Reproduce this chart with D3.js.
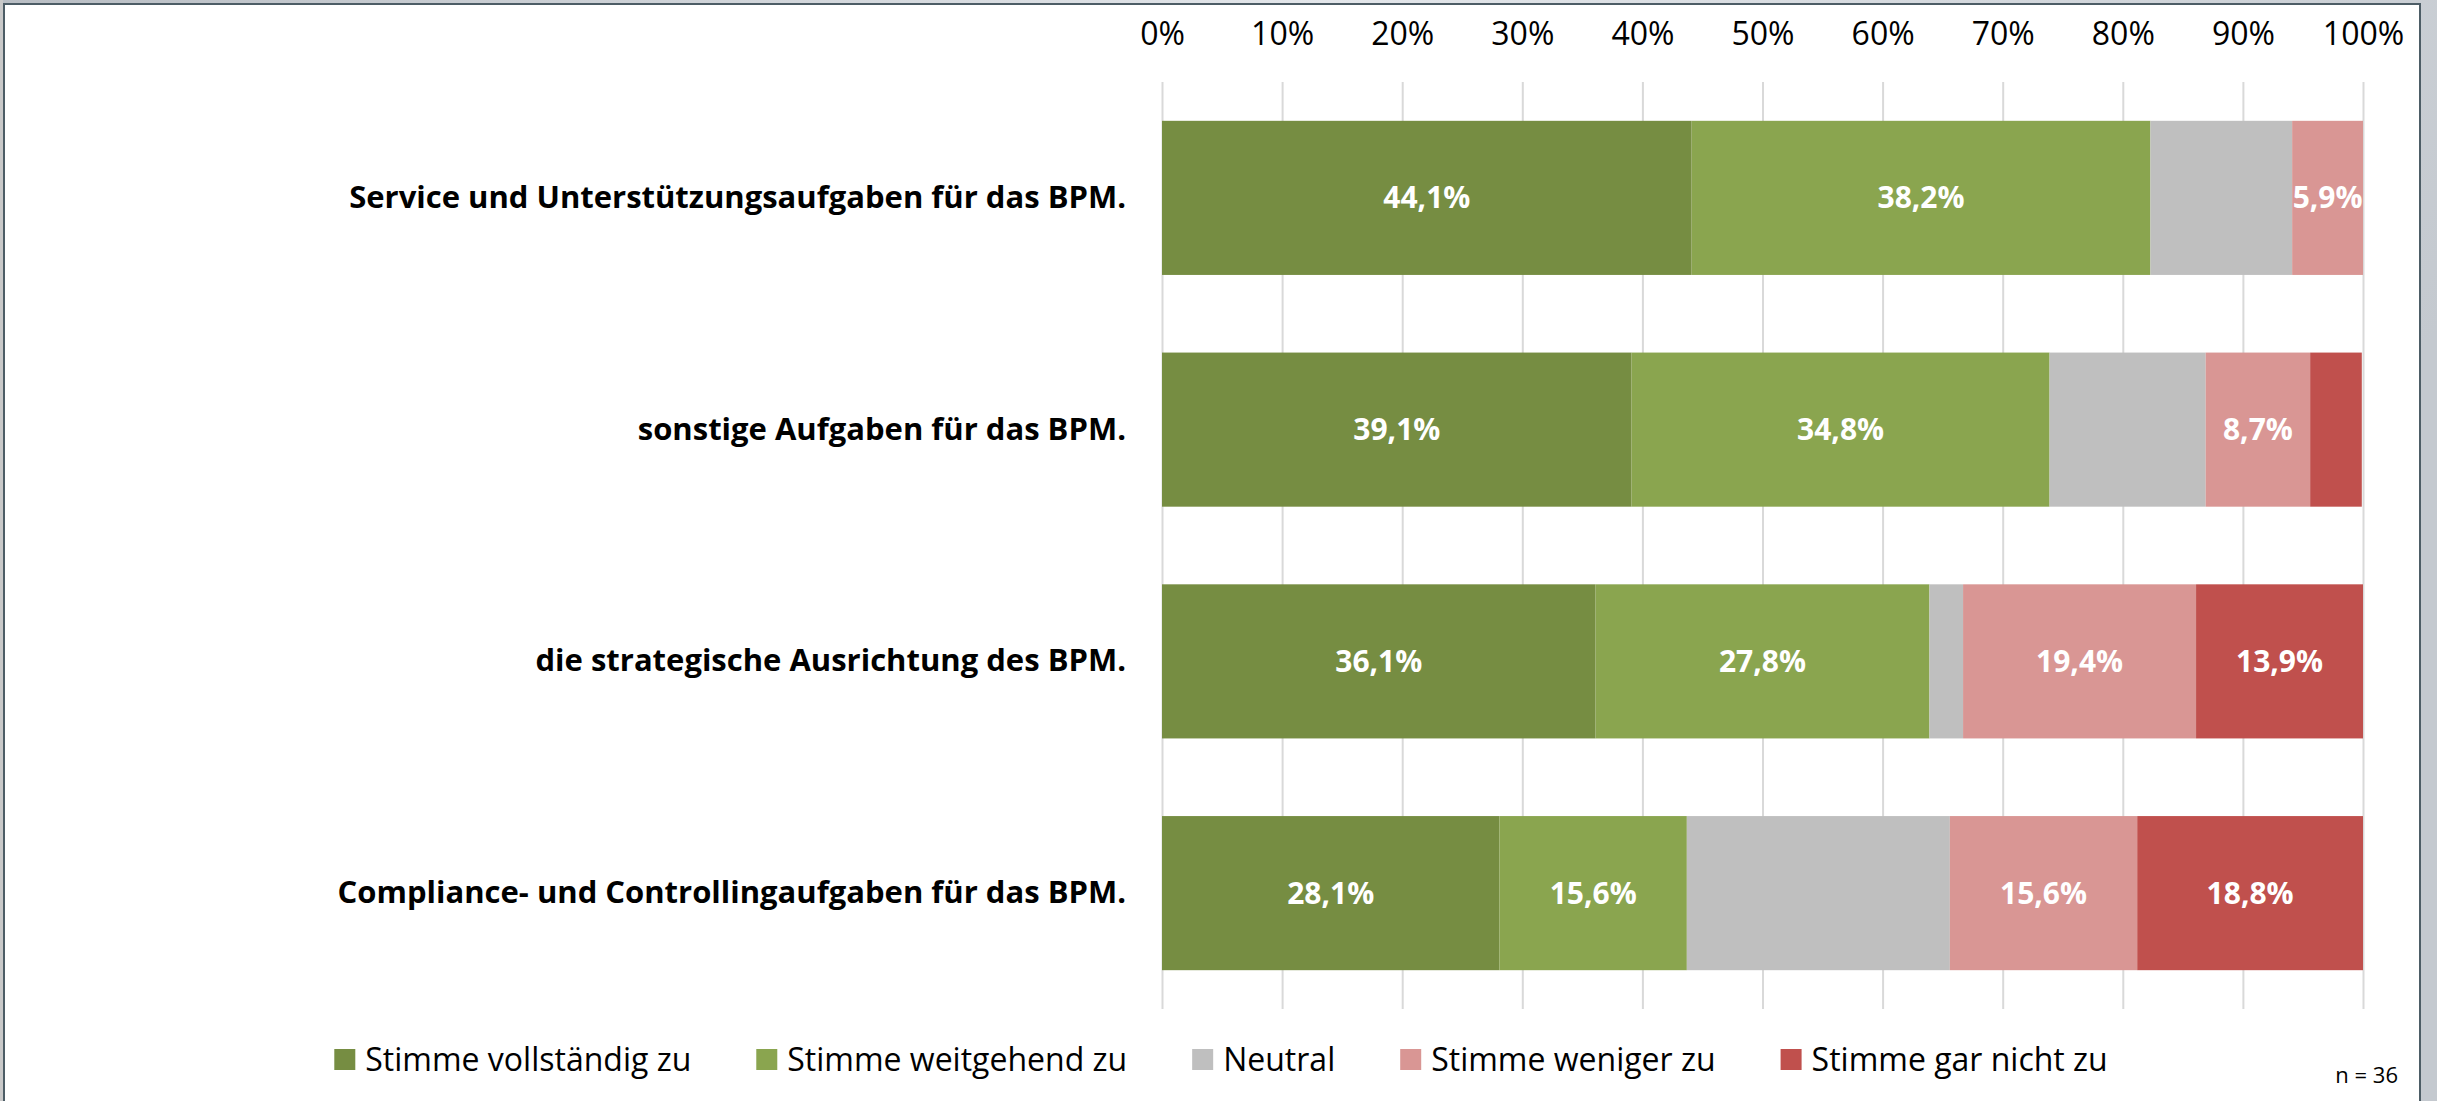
<!DOCTYPE html>
<html>
<head>
<meta charset="utf-8">
<script src="https://cdn.jsdelivr.net/npm/d3@7"></script>
<style>
	body { margin: 0; background: #c8ccd0; overflow: hidden; }
	svg { display: block; }
</style>
</head>
<body>
<div id="chart"></div>
<script>

// Chart data
const categories = [
	"Service und Unterstützungsaufgaben für das BPM.",
	"sonstige Aufgaben für das BPM.",
	"die strategische Ausrichtung des BPM.",
	"Compliance- und Controllingaufgaben für das BPM."
];
const seriesNames = ["Stimme vollständig zu", "Stimme weitgehend zu", "Neutral", "Stimme weniger zu", "Stimme gar nicht zu"];
const vollstaendig = [44.1, 39.1, 36.1, 28.1];
const weitgehend = [38.2, 34.8, 27.8, 15.6];
const neutral = [11.8, 13.0, 2.8, 21.9];
const weniger = [5.9, 8.7, 19.4, 15.6];
const garNicht = [0, 4.3, 13.9, 18.8];
const tickValues = [0, 10, 20, 30, 40, 50, 60, 70, 80, 90, 100];
const note = "n = 36";

const colors = ["#768d42", "#8aa54f", "#bfbfbf", "#d99694", "#c0504d"];
// which series get data labels (neutral never labelled in the original)
const showLabel = [true, true, false, true, true];

// General Variables
const width = 2437, height = 1101;
const margin = { top: 82, right: 74, left: 1162, bottom: 92 };
const innerWidth = width - margin.left - margin.right;
const innerHeight = height - margin.top - margin.bottom;
const font = "'Open Sans', 'Noto Sans', sans-serif";

let svg = d3.select("#chart").append("svg")
	.attr("width", width)
	.attr("height", height);

// window frame around the chart
let grad = svg.append("defs").append("linearGradient")
	.attr("id", "bg").attr("x1", 0).attr("x2", 1).attr("y1", 0).attr("y2", 0.3);
grad.append("stop").attr("offset", "0%").attr("stop-color", "#b9bec4");
grad.append("stop").attr("offset", "50%").attr("stop-color", "#e3e6ea");
grad.append("stop").attr("offset", "100%").attr("stop-color", "#c4c9cf");
svg.append("rect").attr("width", width).attr("height", height).attr("fill", "url(#bg)");
svg.append("rect").attr("width", 3).attr("height", height).attr("fill", "#c9c9c9");
svg.append("rect")
	.attr("x", 3).attr("y", 3)
	.attr("width", 2418).attr("height", height - 3)
	.attr("fill", "#ffffff");
svg.append("path")
	.attr("d", "M4,1101 V4 H2420 V1101")
	.attr("fill", "none")
	.attr("stroke", "#4d5d66")
	.attr("stroke-width", 2);

// stack the series
const table = categories.map((c, i) => ({
	category: c,
	s0: vollstaendig[i], s1: weitgehend[i], s2: neutral[i], s3: weniger[i], s4: garNicht[i]
}));
const keys = ["s0", "s1", "s2", "s3", "s4"];
const stacked = d3.stack().keys(keys)(table);

// x position scale
let x = d3.scaleLinear()
	.domain([0, 100])
	.range([0, innerWidth]);

// y position scale
let y = d3.scaleBand()
	.domain(categories)
	.range([0, innerHeight])
	.paddingInner(0.335)
	.paddingOuter(0.1675);

const g = svg.append("g")
	.attr("transform", "translate(" + margin.left + "," + margin.top + ")");

// X axis on top with gridlines
let xAxis = g.append("g")
	.call(d3.axisTop(x)
		.tickValues(tickValues)
		.tickSize(-innerHeight)
		.tickPadding(37)
		.tickFormat(d => d + "%"));
xAxis.select(".domain").remove();
xAxis.selectAll(".tick line").attr("stroke", "#d9d9d9").attr("stroke-width", 2);
xAxis.selectAll(".tick text")
	.attr("fill", "#000")
	.style("font-family", font)
	.style("font-size", "32px");

// Y axis category labels
let yAxis = g.append("g")
	.call(d3.axisLeft(y).tickSize(0).tickPadding(36));
yAxis.select(".domain").remove();
yAxis.selectAll(".tick text")
	.attr("fill", "#000")
	.style("font-family", font)
	.style("font-size", "31px")
	.style("font-weight", "bold");

// bars
let layers = g.append("g")
	.selectAll("g")
	.data(stacked)
	.enter().append("g")
	.attr("fill", (d, i) => colors[i]);

layers.selectAll("rect")
	.data(d => d)
	.enter().append("rect")
	.attr("x", d => x(d[0]))
	.attr("y", d => y(d.data.category))
	.attr("width", d => x(d[1]) - x(d[0]))
	.attr("height", y.bandwidth());

// data labels
layers.each(function (layer, i) {
	if (!showLabel[i]) return;
	d3.select(this).selectAll("text")
		.data(layer.filter(d => d[1] - d[0] >= 5))
		.enter().append("text")
		.attr("x", d => x((d[0] + d[1]) / 2))
		.attr("y", d => y(d.data.category) + y.bandwidth() / 2)
		.attr("dy", "0.35em")
		.attr("text-anchor", "middle")
		.attr("fill", "#fff")
		.style("font-family", font)
		.style("font-size", "30px")
		.style("font-weight", "bold")
		.text(d => (d[1] - d[0]).toFixed(1).replace(".", ",") + "%");
});

// legend
let legend = svg.append("g");
let items = legend.selectAll("g")
	.data(seriesNames)
	.enter().append("g");
items.append("rect")
	.attr("y", 1049)
	.attr("width", 21)
	.attr("height", 21)
	.attr("fill", (d, i) => colors[i]);
items.append("text")
	.attr("x", 31)
	.attr("y", 1060)
	.attr("dy", "0.35em")
	.attr("fill", "#000")
	.style("font-family", font)
	.style("font-size", "32px")
	.text(d => d);

// place legend items side by side, centered
let offset = 0;
const gap = 65;
const offsets = [];
items.each(function () {
	offsets.push(offset);
	offset += 31 + this.querySelector("text").getComputedTextLength() + gap;
});
const legendWidth = offset - gap;
const legendLeft = 1221 - legendWidth / 2;
items.attr("transform", (d, i) => "translate(" + (legendLeft + offsets[i]) + ",0)");

// sample size note
svg.append("text")
	.attr("x", 2398)
	.attr("y", 1083)
	.attr("text-anchor", "end")
	.attr("fill", "#000")
	.style("font-family", font)
	.style("font-size", "22px")
	.text(note);

</script>
</body>
</html>
